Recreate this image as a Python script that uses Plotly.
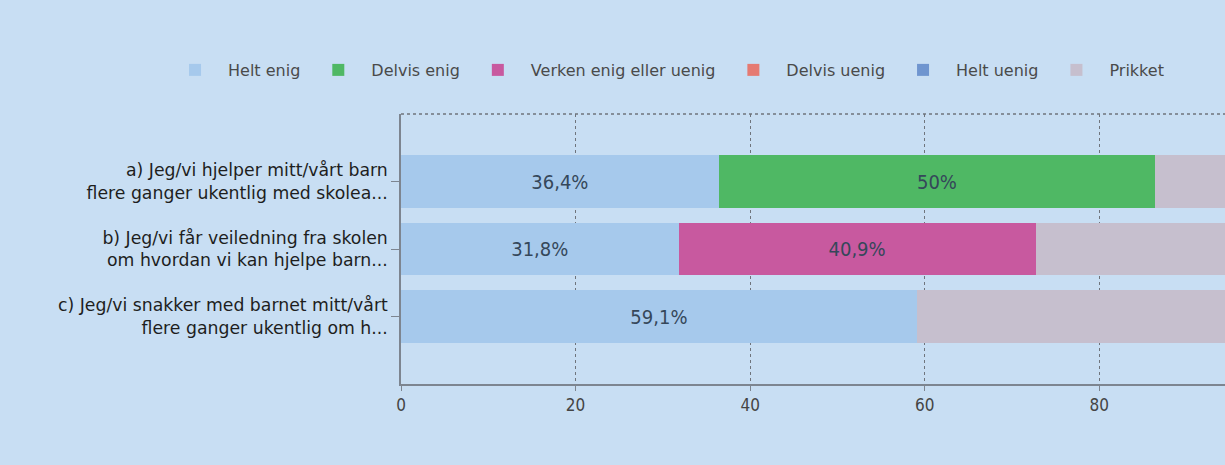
import plotly.graph_objects as go

categories = [
    "a) Jeg/vi hjelper mitt/vårt barn<br>flere ganger ukentlig med skolea...",
    "b) Jeg/vi får veiledning fra skolen<br>om hvordan vi kan hjelpe barn...",
    "c) Jeg/vi snakker med barnet mitt/vårt<br>flere ganger ukentlig om h...",
]
series_names = ["Helt enig", "Delvis enig", "Verken enig eller uenig", "Delvis uenig", "Helt uenig", "Prikket"]
helt_enig = [36.4, 31.8, 59.1]
delvis_enig = [50.0, 0, 0]
verken = [0, 40.9, 0]
delvis_uenig = [0, 0, 0]
helt_uenig = [0, 0, 0]
prikket = [13.6, 27.3, 40.9]
x_ticks = [0, 20, 40, 60, 80]

series_values = [helt_enig, delvis_enig, verken, delvis_uenig, helt_uenig, prikket]
colors = ["#a6c9ec", "#4fb864", "#c8599f", "#e57a72", "#6f95cf", "#c6bfce"]
show_labels = [True, True, True, True, True, False]

def fmt(v):
    if v == 0:
        return ""
    s = ("%.1f" % v).rstrip("0").rstrip(".")
    return s.replace(".", ",") + "%"

fig = go.Figure()
for name, vals, col, lab in zip(series_names, series_values, colors, show_labels):
    fig.add_trace(go.Bar(
        y=categories, x=vals, name=name, orientation="h",
        marker=dict(color=col, line=dict(width=0)),
        text=[fmt(v) for v in vals] if lab else None,
        textposition="inside", insidetextanchor="middle",
        textfont=dict(family="DejaVu Sans Condensed", size=20, color="#35475a"),
        hoverinfo="skip",
    ))

bg = "#c8def3"
fig.update_layout(
    width=1225, height=465,
    barmode="stack", bargap=0.22,
    paper_bgcolor=bg, plot_bgcolor=bg,
    margin=dict(l=401, r=0, t=114, b=81),
    font=dict(family="DejaVu Sans", color="#333"),
    showlegend=True,
    uniformtext=dict(mode="show", minsize=8),
    legend=dict(orientation="h", x=-0.29, xanchor="left", y=1.163, yanchor="middle",
                font=dict(family="DejaVu Sans", size=16, color="#4a4a4a"),
                itemwidth=56, traceorder="normal", bgcolor="rgba(0,0,0,0)"),
    xaxis=dict(range=[0, 94.4], tickvals=x_ticks, showgrid=True, gridcolor="#6f747c",
               griddash="dot", gridwidth=1, zeroline=False, showline=True, linecolor="#7d8590",
               linewidth=1.5, ticks="outside", ticklen=5, tickcolor="#7d8590",
               tickfont=dict(family="DejaVu Sans Condensed", size=17, color="#444")),
    yaxis=dict(range=[3, -1], showgrid=False, zeroline=False, showline=True, linecolor="#7d8590",
               linewidth=1.5, ticks="outside", ticklen=8, tickcolor="#7d8590",
               tickfont=dict(family="DejaVu Sans", size=17.3, color="#1e1e1e")),
    shapes=[dict(type="line", xref="paper", yref="paper", x0=0, x1=1, y0=1, y1=1,
                 line=dict(color="#6f747c", width=1.5, dash="dot"))],
)

fig.write_html("out.html", config={"displayModeBar": False},
               post_script="document.body.style.margin='0';document.body.style.padding='0';")
